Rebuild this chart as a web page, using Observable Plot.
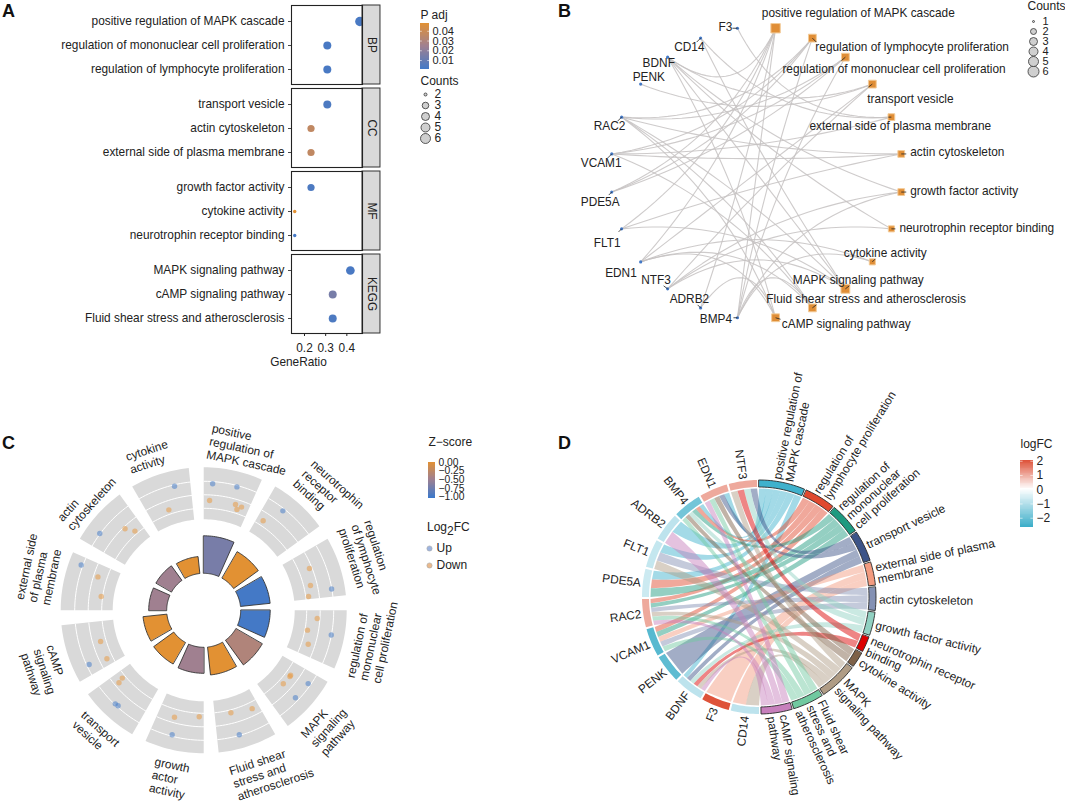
<!DOCTYPE html>
<html>
<head>
<meta charset="utf-8">
<script src="https://cdn.jsdelivr.net/npm/d3@7"></script>
<script src="https://cdn.jsdelivr.net/npm/@observablehq/plot@0.6"></script>
<style>
html,body{margin:0;padding:0;background:#fff;}
#root{position:relative;width:1065px;height:801px;overflow:hidden;font-family:'Liberation Sans',Arial,sans-serif;color:#222;}
.tag{position:absolute;font-size:18px;font-weight:bold;color:#111;line-height:1;}
.leg{position:absolute;font-size:12px;line-height:1;color:#222;white-space:nowrap;}
</style>
</head>
<body>
<div id="root"></div>
<script>
// ---------- Data: enrichment terms ----------
const termNames = ["positive regulation of MAPK cascade","regulation of lymphocyte proliferation","regulation of mononuclear cell proliferation","transport vesicle","external side of plasma membrane","actin cytoskeleton","growth factor activity","neurotrophin receptor binding","cytokine activity","MAPK signaling pathway","Fluid shear stress and atherosclerosis","cAMP signaling pathway"];
const termGroups = ["BP","BP","BP","CC","CC","CC","MF","MF","MF","KEGG","KEGG","KEGG"];
const termSlots = [0,2,1,0,2,1,0,2,1,0,2,1];
const termRatio = [0.4615,0.3077,0.3077,0.3077,0.2308,0.2308,0.2308,0.1538,0.1538,0.4167,0.3333,0.3333];
const termPadj = [0.002,0.002,0.002,0.003,0.036,0.036,0.003,0.001,0.048,0.002,0.003,0.014];
const termCounts = [6,4,4,4,3,3,3,2,2,5,4,4];
const groupNames = ["BP","CC","MF","KEGG"];
const termGenes = [
  ["EDN1","BMP4","ADRB2","FLT1","PDE5A","BDNF"],
  ["BMP4","PDE5A","RAC2","VCAM1"],
  ["BMP4","PDE5A","RAC2","VCAM1"],
  ["NTF3","EDN1","PENK","BDNF"],
  ["F3","CD14","VCAM1"],
  ["FLT1","RAC2","VCAM1"],
  ["NTF3","BMP4","BDNF"],
  ["NTF3","BDNF"],
  ["BMP4","EDN1"],
  ["NTF3","FLT1","RAC2","BDNF","CD14"],
  ["EDN1","BMP4","RAC2","VCAM1"],
  ["EDN1","ADRB2","RAC2","BDNF"]
];
const termColors = ["#3fb1cc","#e0492f","#1f9a80","#3c5488","#f39b7f","#8491b4","#91d1c2","#dc0000","#7e6148","#b09c85","#70c9a0","#c77fbc"];
// ---------- Data: genes ----------
const geneNames = ["CD14","F3","BDNF","PENK","VCAM1","RAC2","PDE5A","FLT1","ADRB2","BMP4","EDN1","NTF3"];
const geneLogFC = [-0.9,2.0,-0.9,-2.2,-2.3,1.0,-0.7,-0.8,-0.9,-1.9,1.0,1.0];
// ---------- Data: panel C ----------
const circleTerms = ["positive regulation of MAPK cascade","neurotrophin receptor binding","regulation of lymphocyte proliferation","regulation of mononuclear cell proliferation","MAPK signaling pathway","Fluid shear stress and atherosclerosis","growth factor activity","transport vesicle","cAMP signaling pathway","external side of plasma membrane","actin cytoskeleton","cytokine activity"];
const circleHeights = [37.5,30.5,29.8,29.5,30.5,28,26,24.8,24,18,18,17];
const circleZ = [-0.72,0,-1,-1,-0.38,0,-0.5,0,0,-0.5,-0.5,0];
const circleDotAngle = [3.8,14.8,2.8,16.4,19.8,17.9, 38.2,33.2, 68.1,76.6,82.2,80.3, 93.9,100.6,107.8,100.8, 126.7,127.5,132.7,125,133.6, 153.9,165.3,164.2, 182.7,195.6,194.5, 230.6,229.8,223.7,222.2, 253.5,243.8,245, 277.9,287.7,290.4, 319,316,306.5, 340.7,346.6];
const circleDotFC = [0.84,0.90,-0.41,-0.38,-0.43,-0.70, 0.83,-0.62, -0.19,-0.50,-0.79,0.98, -0.20,-0.81,-0.50,0.99, -0.61,-0.59,-0.62,0.81,0.74, -0.52,-0.79,0.95, -0.74,-0.41,0.89, -0.74,-0.33,0.94,0.90, -0.59,-0.56,0.81, -0.89,-0.33,1.13, -0.77,-0.15,1.03, -0.67,0.89];
const circleLabels = ["positive\nregulation of\nMAPK cascade","neurotrophin\nreceptor\nbinding","regulation\nof lymphocyte\nproliferation","regulation of\nmononuclear\ncell proliferation","MAPK\nsignaling\npathway","Fluid shear\nstress and\natherosclerosis","growth\nactor\nactivity","transport\nvesicle","cAMP\nsignaling\npathway","external side\nof plasma\nmembrane","actin\ncytoskeleton","cytokine\nactivity"];
// ---------- Layout tables (label placement, not data) ----------
const circleLabelAngle = [1.8,35.7,60.3,113.6,141,170.4,197.7,229.5,257,272.9,301.9,332.7];
const circleLabelRadius = [170,171,174,173.6,172.6,175.5,171.5,165,171,172,164.6,166];
const networkOrder = [...termNames,"BMP4","ADRB2","NTF3","EDN1","FLT1","PDE5A","VCAM1","RAC2","PENK","BDNF","CD14","F3"];
const networkLabelShift = [[-13.7,-15],[3,9],[-63,11.6],[-5,15],[-82,9.4],[9,-1.4],[9,-.6],[8,-.7],[-28.5,-8.7],[-52.6,-8.3],[-46,-8.4],[6.3,6.8],[-37.7,1],[-31,-8.4],[-26.4,-9],[-35.5,11.3],[-27.8,14],[-31,9.7],[-31,9.3],[-27.8,9.4],[-8,-7],[-25,6],[-26.4,9],[-19,-1]];
const networkLeader = [[0,0],[4,4],[-4,3.5],[-4,3],[-3,0],[5,0],[5,0],[4,0],[3,-3],[4,-3],[4,-3],[5,1.5],[-4,0],[-3,-3],[-4,-3],[0,0],[-3,3],[-3,3],[-4,4],[-4,4],[0,0],[0,0],[-4,4],[-5,0]];
const chordLabels = ["positive regulation of\nMAPK cascade","regulation of\nlymphocyte proliferation","regulation of\nmononuclear\ncell proliferation","transport vesicle","external side of plasma\nmembrane","actin cytoskeleton","growth factor activity","neurotrophin receptor\nbinding","cytokine activity","MAPK\nsignaling pathway","Fluid shear\nstress and\natherosclerosis","cAMP signaling\npathway"];

const FONT = "'Liberation Sans',Arial,sans-serif";
const INK = "#222";
const FS = 11.85;
const ORANGE = "#e29133", MAUVE = "#a08090", BLUE = "#4479c6";
const root = document.getElementById("root");
const baseStyle = {background:"transparent",overflow:"visible",fontFamily:FONT,fontSize:"12px",maxWidth:"none"};
function place(node,left,top){node.style.position="absolute";node.style.left=left+"px";node.style.top=top+"px";root.appendChild(node);return node;}
function html(cls,left,top,inner){const d=document.createElement("div");d.className=cls;d.style.left=left+"px";d.style.top=top+"px";d.innerHTML=inner;root.appendChild(d);}
const rad = a=>a*Math.PI/180;
const px = (a,r)=>r*Math.sin(rad(a));
const py = (a,r)=>-r*Math.cos(rad(a));
function sector(id,a0,a1,r0,r1,extra){
  const n=Math.max(4,Math.ceil(Math.abs(a1-a0)/1.5));
  return d3.range(n+1).map(i=>{const a=a0+(a1-a0)*i/n;return {id,x1:px(a,r1),y1:py(a,r1),x2:px(a,r0),y2:py(a,r0),...extra};});
}
function arcLine(id,a0,a1,r){
  const n=Math.max(4,Math.ceil(Math.abs(a1-a0)/1.5));
  return d3.range(n+1).map(i=>{const a=a0+(a1-a0)*i/n;return {id,x:px(a,r),y:py(a,r)};});
}

// ---------- Legends ----------
function colorbar({left,top,w,h,yDomain,colorDomain,colorRange,ticks,format,title,titleDy,tickMarks=true,tickFont=12}){
  const st=(yDomain[1]-yDomain[0])/80;
  const steps=d3.range(80).map(i=>yDomain[0]+i*st);
  place(Plot.plot({
    width:w+40,height:h,marginLeft:0,marginRight:40,marginTop:0,marginBottom:0,style:baseStyle,
    x:{domain:[0,1],axis:null},y:{domain:yDomain,axis:null},
    color:{type:"linear",domain:colorDomain,range:colorRange,interpolate:"rgb"},
    marks:[
      Plot.rect(steps,{x1:0,x2:1,y1:d=>d,y2:d=>d+st*1.3,fill:d=>d,shapeRendering:"crispEdges"}),
      tickMarks?Plot.ruleY(ticks,{y:d=>d,x1:0,x2:0.2,stroke:"#fff",strokeWidth:0.6}):null,
      tickMarks?Plot.ruleY(ticks,{y:d=>d,x1:0.8,x2:1,stroke:"#fff",strokeWidth:0.6}):null,
      Plot.axisY({anchor:"right",ticks,tickSize:0,tickPadding:3,tickFormat:format,label:null,fontSize:tickFont,color:INK}),
      Plot.text([title],{text:d=>d,frameAnchor:"top-left",dy:titleDy,textAnchor:"start",fontSize:12,fill:INK})
    ]
  }),left,top);
}
function countLegend({left,top,values,radii,first,last,dotX,labelX,height,labelFont=12}){
  place(Plot.plot({
    width:60,height,margin:0,style:baseStyle,
    x:{domain:[0,60],range:[0,60],axis:null},
    y:{type:"point",domain:values,range:[first,last],padding:0,axis:null},
    r:{type:"linear",domain:values,range:radii},
    marks:[
      Plot.dot(values,{x:()=>dotX,y:d=>d,r:d=>d,fill:"#cfcfcf",stroke:"#333",strokeWidth:0.8}),
      Plot.text(values,{x:()=>labelX,y:d=>d,text:d=>String(d),textAnchor:"start",fontSize:labelFont,fill:INK}),
      Plot.text(["Counts"],{text:d=>d,frameAnchor:"top-left",lineAnchor:"top",fontSize:12,fill:INK})
    ]
  }),left,top);
}

// ---------- Panel A ----------
const rowsA = termNames.map((term,i)=>({term,group:termGroups[i],slot:termSlots[i],ratio:termRatio[i],padj:termPadj[i],count:termCounts[i]}));
const xMinA=0.1386,xMaxA=0.474,pxPerA=212;
const PADJ_DOMAIN=[0.0008,0.0244,0.048], ZRANGE=[BLUE,MAUVE,ORANGE];
place(Plot.plot({
  width:520,height:380,marginLeft:291,marginRight:158,marginTop:4,marginBottom:46,style:baseStyle,
  x:{domain:[xMinA,xMaxA],axis:null},
  y:{type:"point",domain:[0,1,2],padding:0.6,axis:null},
  fy:{domain:groupNames,padding:0.045,axis:null},
  color:{type:"linear",domain:PADJ_DOMAIN,range:ZRANGE,interpolate:"rgb"},
  r:{type:"linear",domain:[2,3,4,6],range:[1.7,3.6,4,4.7]},
  marks:[
    Plot.dot(rowsA,{fy:"group",x:"ratio",y:"slot",r:"count",fill:"padj"}),
    Plot.rect(groupNames,{fy:d=>d,x1:()=>xMaxA,x2:()=>xMaxA+18/pxPerA,fill:"#d9d9d9",stroke:"#333",strokeWidth:1}),
    Plot.frame({stroke:"#222",strokeWidth:1.1}),
    Plot.text(groupNames,{fy:d=>d,x:()=>xMaxA+9/pxPerA,frameAnchor:"middle",rotate:90,text:d=>d,fontSize:FS,fill:INK}),
    Plot.ruleY(rowsA,{fy:"group",y:"slot",x1:()=>xMinA,x2:()=>xMinA-3/pxPerA,stroke:"#333",strokeWidth:0.9}),
    Plot.text(rowsA,{fy:"group",y:"slot",x:()=>xMinA,dx:-7,text:"term",textAnchor:"end",fontSize:FS,fill:INK}),
    Plot.axisX({ticks:[0.2,0.3,0.4],tickSize:3,tickPadding:7,tickFormat:d3.format(".1f"),label:null,fontSize:FS,color:INK}),
    Plot.text(["GeneRatio"],{fy:()=>"KEGG",x:()=>0.1716,frameAnchor:"bottom",dy:32,text:d=>d,fontSize:FS,fill:INK})
  ]
}),0,0);
colorbar({left:420,top:23,w:9,h:46,yDomain:[0.0008,0.048],colorDomain:PADJ_DOMAIN,colorRange:ZRANGE,ticks:[0.01,0.02,0.03,0.04],format:d3.format(".2f"),title:"P adj",titleDy:-13,tickFont:11});
countLegend({left:420,top:76,values:[2,3,4,5,6],radii:[1.5,3.3,4,4.5,5],first:18,last:62,dotX:5,labelX:14,height:72});

// ---------- Panel B ----------
const R_B=146;
const nodesB = networkOrder.map((name,i)=>{
  const a=7.5+15*i, t=termNames.indexOf(name);
  const x=px(a,R_B), y=py(a,R_B);
  return {name,x,y,isTerm:t>=0,count:t>=0?termCounts[t]:1,
    lx:x+networkLabelShift[i][0],ly:y+networkLabelShift[i][1],
    ex:x+networkLeader[i][0],ey:y+networkLeader[i][1]};
});
const nodeB = new Map(nodesB.map(d=>[d.name,d]));
const edgesB = [];
termNames.forEach((term,ti)=>termGenes[ti].forEach(g=>{
  const A=nodeB.get(g),B=nodeB.get(term);
  const cx=(A.x+B.x)/4,cy=(A.y+B.y)/4;
  d3.range(25).forEach(k=>{const t=k/24,u=1-t;
    edgesB.push({id:term+g,x:u*u*A.x+2*t*u*cx+t*t*B.x,y:u*u*A.y+2*t*u*cy+t*t*B.y});});
}));
place(Plot.plot({
  width:495,height:340,margin:0,style:baseStyle,
  x:{domain:[-186,309],range:[0,495],axis:null},
  y:{domain:[-172.5,167.5],range:[0,340],axis:null},
  r:{type:"linear",domain:[2,3,4,5,6],range:[3.4,3.8,4.4,5,5.3]},
  marks:[
    Plot.line(edgesB,{x:"x",y:"y",z:"id",stroke:"#c6c2c2",strokeWidth:1.1,strokeOpacity:0.85}),
    Plot.dot(nodesB.filter(d=>d.isTerm),{x:"x",y:"y",r:"count",symbol:"square",fill:"#e08e36",stroke:"#f3cb98",strokeWidth:1}),
    Plot.dot(nodesB.filter(d=>!d.isTerm),{x:"x",y:"y",r:1.6,fill:BLUE}),
    Plot.link(nodesB,{x1:"x",y1:"y",x2:"ex",y2:"ey",stroke:"#222",strokeWidth:0.8}),
    Plot.text(nodesB,{x:"lx",y:"ly",text:"name",textAnchor:"start",fontSize:FS,fill:INK})
  ]
}),570,0);
countLegend({left:1027,top:1,values:[1,2,3,4,5,6],radii:[1,3,4,4.5,5,5.5],first:18,last:71,dotX:6,labelX:15,height:80,labelFont:11});

// ---------- Panel C ----------
const fcRadius = v=>116+13.5*v;
const gapTerms = circleTerms.map((term,i)=>({term,a0:30*i,a1:30*i+24}));
const grayC = gapTerms.flatMap(d=>sector(d.term,d.a0,d.a1,91,143,{}));
const gridC = gapTerms.flatMap(d=>[-1,0,1].flatMap(v=>arcLine(d.term+v,d.a0,d.a1,fcRadius(v))));
const barsC = gapTerms.flatMap((d,i)=>sector(d.term,d.a0,d.a1,37,37+circleHeights[i],{z:circleZ[i]}));
const dotsC = circleDotAngle.map((a,i)=>({x:px(a,fcRadius(circleDotFC[i])),y:py(a,fcRadius(circleDotFC[i])),dir:circleDotFC[i]>0?"Up":"Down"}));
const labelsC = circleLabels.map((text,i)=>{
  const mid=12+30*i;
  let rot=mid; if(mid>90&&mid<270) rot=mid-180; else if(mid>=270) rot=mid-360;
  return {text,rot,x:px(circleLabelAngle[i],circleLabelRadius[i]),y:py(circleLabelAngle[i],circleLabelRadius[i])};
});
place(Plot.plot({
  width:430,height:381,margin:0,style:baseStyle,
  x:{domain:[-203.7,226.3],range:[0,430],axis:null},
  y:{domain:[-190.3,190.7],range:[0,381],axis:null},
  color:{type:"linear",domain:[-1,-0.5,0],range:ZRANGE,interpolate:"rgb"},
  marks:[
    Plot.area(grayC,{x1:"x1",y1:"y1",x2:"x2",y2:"y2",z:"id",fill:"#d9d9d9"}),
    Plot.line(gridC,{x:"x",y:"y",z:"id",stroke:"#fff",strokeWidth:1}),
    Plot.dot(dotsC,{x:"x",y:"y",r:2.7,fill:{value:d=>d.dir==="Up"?"#4a7fc9":"#e89a45",scale:null},fillOpacity:0.55}),
    Plot.area(barsC,{x1:"x1",y1:"y1",x2:"x2",y2:"y2",z:"id",fill:"z",stroke:"#333",strokeWidth:0.9}),
    Plot.text(labelsC,{x:"x",y:"y",text:"text",rotate:"rot",textAnchor:"start",fontSize:FS,lineHeight:1.13,fill:INK})
  ]
}),0,420);
colorbar({left:428,top:462,w:7,h:36,yDomain:[-1.05,0],colorDomain:[-1,-0.5,0],colorRange:ZRANGE,ticks:[0,-0.25,-0.5,-0.75,-1],format:d3.format(".2f"),title:"Z\u2212score",titleDy:-25,tickMarks:false,tickFont:10.3});
html("leg",427,521,'Log<span style="position:relative;top:4px">2</span>FC');
place(Plot.plot({
  width:40,height:34,margin:0,style:baseStyle,
  x:{domain:[0,40],range:[0,40],axis:null},
  y:{type:"point",domain:["Up","Down"],range:[8,25],padding:0,axis:null},
  marks:[
    Plot.dot(["Up","Down"],{x:()=>2,y:d=>d,r:2.6,fill:d=>d==="Up"?"#9db4e0":"#eab98c",stroke:"#aaa",strokeWidth:0.6}),
    Plot.text(["Up","Down"],{x:()=>9,y:d=>d,text:d=>d,textAnchor:"start",fontSize:12,fill:INK})
  ]
}),427,540);

// ---------- Panel D ----------
const unit=168/44, gapD=1, geneSpan=14;
let cursor=0;
const termArc=termNames.map((t,i)=>{const a0=cursor,a1=a0+termCounts[i]*unit;cursor=a1+gapD;return [a0,a1];});
cursor=180;
const geneArc=geneNames.map(()=>{const a0=cursor,a1=a0+geneSpan;cursor=a1+gapD;return [a0,a1];});
const ribbonR=108.5,ringIn=110,ringOut=117,pull=0.2;
const geneLinks=geneNames.map((g,gi)=>termNames.map((t,ti)=>ti).filter(ti=>termGenes[ti].includes(g)).sort((p,q)=>q-p));
const ribbons=[];
termNames.forEach((term,ti)=>{
  const order=termGenes[ti].map(g=>geneNames.indexOf(g)).sort((p,q)=>q-p);
  order.forEach((gi,k)=>{
    const a0=termArc[ti][0]+k*unit,a1=a0+unit;
    const links=geneLinks[gi],pos=links.indexOf(ti),w=geneSpan/links.length;
    const b0=geneArc[gi][0]+pos*w,b1=b0+w;
    const bez=(a,b,t,f)=>{const A=f(a,ribbonR),B=f(b,ribbonR),C=pull*(A+B)/2,u=1-t;return u*u*A+2*u*t*C+t*t*B;};
    d3.range(41).forEach(j=>{
      const t=j/40;
      ribbons.push({id:term+gi,col:termColors[ti],
        x1:bez(a0,b1,t,px),y1:bez(a0,b1,t,py),x2:bez(a1,b0,t,px),y2:bez(a1,b0,t,py)});
    });
  });
});
const termRing=termNames.flatMap((t,i)=>sector(t,termArc[i][0],termArc[i][1],ringIn,ringOut,{col:termColors[i]}));
const geneRing=geneNames.flatMap((g,i)=>sector(g,geneArc[i][0],geneArc[i][1],ringIn,ringOut,{fc:geneLogFC[i]}));
const rLab=119.5;
const termLab=chordLabels.map((text,i)=>{const m=(termArc[i][0]+termArc[i][1])/2;return {text,rot:m-90,x:px(m,rLab),y:py(m,rLab)};});
const geneLab=geneNames.map((text,i)=>{const m=(geneArc[i][0]+geneArc[i][1])/2;return {text,rot:m-270,x:px(m,rLab),y:py(m,rLab)};});
const FC_DOMAIN=[-2.65,0,2.1], FC_RANGE=["#3daec9","#ffffff","#dc4a30"];
place(Plot.plot({
  width:475,height:441,margin:0,style:baseStyle,
  x:{domain:[-169,306],range:[0,475],axis:null},
  y:{domain:[-237,204],range:[0,441],axis:null},
  color:{type:"linear",domain:FC_DOMAIN,range:FC_RANGE,interpolate:"rgb"},
  marks:[
    Plot.area(ribbons,{x1:"x1",y1:"y1",x2:"x2",y2:"y2",z:"id",fill:{value:"col",scale:null},fillOpacity:0.48}),
    Plot.area(geneRing,{x1:"x1",y1:"y1",x2:"x2",y2:"y2",z:"id",fill:"fc"}),
    Plot.area(termRing,{x1:"x1",y1:"y1",x2:"x2",y2:"y2",z:"id",fill:{value:"col",scale:null},stroke:"#2a2a2a",strokeWidth:0.9}),
    Plot.text(termLab,{x:"x",y:"y",text:"text",rotate:"rot",textAnchor:"start",fontSize:FS,lineHeight:1.05,fill:INK}),
    Plot.text(geneLab,{x:"x",y:"y",text:"text",rotate:"rot",textAnchor:"end",fontSize:FS,fill:INK})
  ]
}),590,360);
colorbar({left:1020,top:460,w:13,h:67,yDomain:[-2.65,2.05],colorDomain:FC_DOMAIN,colorRange:FC_RANGE,ticks:[2,1,0,-1,-2],format:d=>String(d).replace("-","\u2212"),title:"logFC",titleDy:-21,tickMarks:true});

// ---------- Panel tags ----------
html("tag",2,2,"A");
html("tag",558,2,"B");
html("tag",2,434,"C");
html("tag",558,434,"D");
</script>
</body>
</html>
